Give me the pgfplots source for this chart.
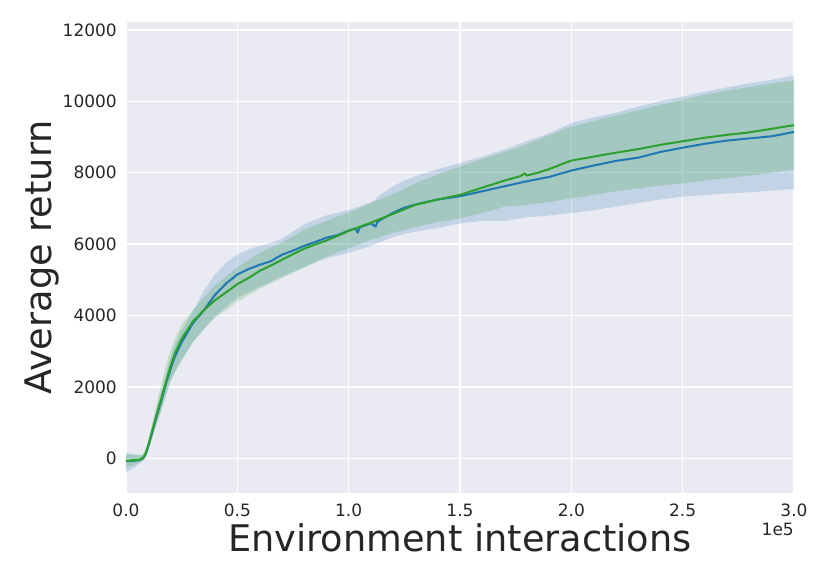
\documentclass[border=0pt]{standalone}
\usepackage{pgfplots}
\pgfplotsset{compat=1.18}
\usepackage{pgfplotstable}
\usepgfplotslibrary{fillbetween}
\usepackage{fontspec}
\setmainfont{DejaVu Sans}
\definecolor{bgc}{HTML}{EAEAF2}
\definecolor{tabblue}{HTML}{1F77B4}
\definecolor{tabgreen}{HTML}{2CA02C}
\definecolor{txt}{HTML}{262626}

\pgfplotstableread{
x m u l
0.00 -80 150 -400
0.03 -70 120 -280
0.06 -50 100 -150
0.07 -20 100 -100
0.08 30 130 -50
0.09 150 260 50
0.10 330 450 230
0.12 780 950 630
0.14 1230 1450 1030
0.16 1650 1900 1400
0.18 2100 2380 1830
0.20 2500 2820 2180
0.22 2850 3180 2450
0.25 3250 3580 2750
0.30 3780 4100 3250
0.35 4150 4700 3600
0.40 4580 5150 3980
0.45 4900 5480 4250
0.50 5150 5700 4500
0.55 5300 5850 4650
0.60 5420 5950 4800
0.65 5520 6030 4950
0.70 5700 6150 5100
0.75 5820 6350 5220
0.80 5950 6550 5350
0.85 6060 6680 5480
0.90 6180 6800 5600
0.95 6250 6880 5680
1.00 6380 6960 5750
1.03 6440 7020 5820
1.04 6320 7040 5840
1.05 6470 7060 5850
1.10 6580 7180 5950
1.12 6490 7250 6000
1.13 6630 7330 6030
1.20 6880 7620 6200
1.25 7020 7780 6280
1.30 7110 7900 6350
1.40 7250 8100 6450
1.50 7340 8270 6580
1.60 7480 8450 6650
1.70 7620 8650 6650
1.80 7760 8880 6750
1.90 7880 9100 6800
2.00 8060 9390 6870
2.10 8200 9550 6950
2.20 8330 9680 7050
2.30 8420 9850 7150
2.40 8580 10000 7250
2.50 8700 10130 7330
2.60 8810 10270 7370
2.70 8900 10390 7420
2.80 8960 10500 7450
2.90 9020 10600 7500
3.00 9140 10720 7540
}\bluedata

\pgfplotstableread{
x m u l
0.00 -80 100 -250
0.03 -50 90 -200
0.06 -40 80 -120
0.07 -10 90 -90
0.08 40 140 -50
0.09 170 290 60
0.10 360 500 230
0.12 820 1050 630
0.14 1280 1600 1000
0.16 1700 2100 1350
0.18 2150 2620 1750
0.20 2580 3030 2150
0.22 2950 3350 2400
0.25 3350 3750 2750
0.30 3830 4150 3250
0.35 4150 4500 3650
0.40 4430 4850 3950
0.45 4650 5100 4150
0.50 4880 5350 4390
0.55 5050 5550 4570
0.60 5250 5750 4750
0.65 5400 5900 4900
0.70 5560 6050 5050
0.75 5720 6220 5200
0.80 5870 6400 5350
0.85 5990 6530 5500
0.90 6100 6650 5650
0.95 6230 6770 5770
1.00 6370 6880 5880
1.10 6600 7150 6120
1.20 6850 7400 6320
1.30 7100 7700 6480
1.40 7250 7950 6620
1.50 7380 8170 6720
1.60 7580 8380 6870
1.70 7780 8580 7050
1.77 7900 8720 7080
1.79 7980 8760 7090
1.80 7920 8800 7100
1.85 8000 8920 7140
1.90 8100 9050 7180
2.00 8340 9290 7280
2.10 8450 9450 7380
2.20 8560 9600 7480
2.30 8660 9750 7560
2.40 8780 9900 7640
2.50 8880 10040 7700
2.60 8980 10180 7780
2.70 9060 10300 7850
2.80 9130 10400 7920
2.90 9230 10500 8000
3.00 9330 10580 8100
}\greendata

\begin{document}
\begin{tikzpicture}
\begin{axis}[
  scale only axis,
  width=668pt, height=471pt,
  xmin=0, xmax=3, ymin=-970, ymax=12220,
  axis background/.style={fill=bgc},
  axis line style={draw=none},
  tick style={draw=none},
  major tick length=0pt,
  grid=major,
  major grid style={white, line width=1.3pt},
  xtick={0,0.5,1,1.5,2,2.5,3},
  xticklabels={0.0,0.5,1.0,1.5,2.0,2.5,3.0},
  ytick={0,2000,4000,6000,8000,10000,12000},
  yticklabels={0,2000,4000,6000,8000,10000,12000},
  scaled x ticks=false, scaled y ticks=false,
  tick label style={font=\fontsize{17}{20}\selectfont, text=txt},
  yticklabel style={anchor=east, inner sep=0pt, xshift=-9pt},
  xticklabel style={anchor=north, inner sep=0pt, yshift=-11pt},
  clip mode=individual,
]
\addplot[draw=none, name path=bu, forget plot] table[x=x, y=u] {\bluedata};
\addplot[draw=none, name path=bl, forget plot] table[x=x, y=l] {\bluedata};
\addplot[fill=tabblue, fill opacity=0.2, draw=none] fill between[of=bu and bl];
\addplot[tabblue, line width=2pt, line join=round] table[x=x, y=m] {\bluedata};
\addplot[draw=none, name path=gu, forget plot] table[x=x, y=u] {\greendata};
\addplot[draw=none, name path=gl, forget plot] table[x=x, y=l] {\greendata};
\addplot[fill=tabgreen, fill opacity=0.2, draw=none] fill between[of=gu and gl];
\addplot[tabgreen, line width=2pt, line join=round] table[x=x, y=m] {\greendata};
\coordinate (sw) at (rel axis cs:0,0);
\node[rotate=90, anchor=base, inner sep=0pt, text=txt, font=\fontsize{36.7}{40}\selectfont] at ([xshift=-74pt]rel axis cs:0,0.5) {Average return};
\node[anchor=base, inner sep=0pt, text=txt, font=\fontsize{36.7}{40}\selectfont] at ([yshift=-58pt]rel axis cs:0.5,0) {Environment interactions};
\node[anchor=north east, inner sep=0pt, text=txt, font=\fontsize{17}{20}\selectfont] at ([yshift=-30pt]rel axis cs:1,0) {1e5};
\end{axis}
\pgfresetboundingbox
\path[use as bounding box] ([shift={(-126pt,-88pt)}]sw) rectangle ([shift={(704pt,493pt)}]sw);
\end{tikzpicture}
\end{document}
